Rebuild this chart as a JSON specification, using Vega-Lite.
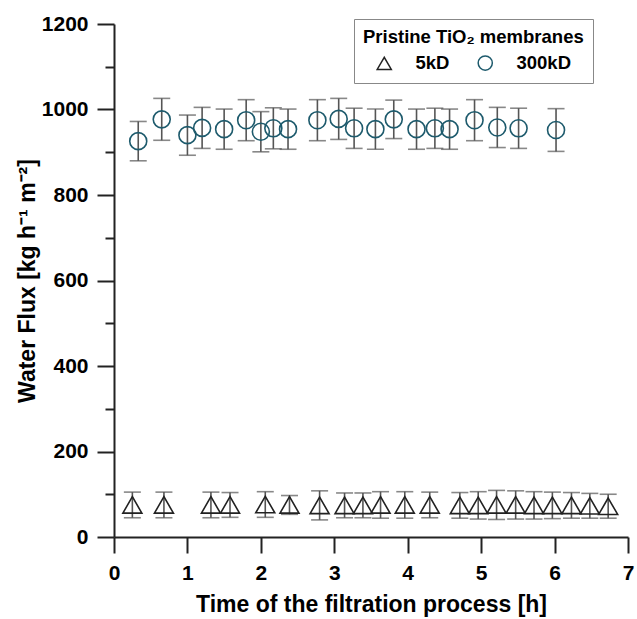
{
  "$schema": "https://vega.github.io/schema/vega-lite/v6.json",
  "width": 514,
  "height": 513,
  "autosize": "none",
  "padding": {"left": 114, "top": 24, "right": 9, "bottom": 82},
  "background": "white",
  "config": {"view": {"stroke": null}, "font": "Liberation Sans"},
  "data": {
    "values": [
      {"series": "300kD", "t": 0.33, "flux": 926, "err": 46},
      {"series": "300kD", "t": 0.65, "flux": 977, "err": 49},
      {"series": "300kD", "t": 1.0, "flux": 940, "err": 47},
      {"series": "300kD", "t": 1.2, "flux": 957, "err": 48},
      {"series": "300kD", "t": 1.5, "flux": 954, "err": 47},
      {"series": "300kD", "t": 1.8, "flux": 975, "err": 48},
      {"series": "300kD", "t": 2.0, "flux": 948, "err": 47},
      {"series": "300kD", "t": 2.17, "flux": 956, "err": 48},
      {"series": "300kD", "t": 2.37, "flux": 954, "err": 47},
      {"series": "300kD", "t": 2.77, "flux": 975, "err": 48},
      {"series": "300kD", "t": 3.06, "flux": 978, "err": 48},
      {"series": "300kD", "t": 3.27, "flux": 956, "err": 47},
      {"series": "300kD", "t": 3.56, "flux": 954, "err": 47},
      {"series": "300kD", "t": 3.81, "flux": 977, "err": 45},
      {"series": "300kD", "t": 4.12, "flux": 954, "err": 47},
      {"series": "300kD", "t": 4.37, "flux": 956, "err": 47},
      {"series": "300kD", "t": 4.57, "flux": 954, "err": 47},
      {"series": "300kD", "t": 4.91, "flux": 975, "err": 48},
      {"series": "300kD", "t": 5.22, "flux": 958, "err": 47},
      {"series": "300kD", "t": 5.51, "flux": 956, "err": 47},
      {"series": "300kD", "t": 6.02, "flux": 952, "err": 50},
      {"series": "5kD", "t": 0.25, "flux": 75, "err": 30},
      {"series": "5kD", "t": 0.68, "flux": 75, "err": 30},
      {"series": "5kD", "t": 1.32, "flux": 75, "err": 30},
      {"series": "5kD", "t": 1.58, "flux": 75, "err": 29},
      {"series": "5kD", "t": 2.06, "flux": 76, "err": 30},
      {"series": "5kD", "t": 2.39, "flux": 75, "err": 22},
      {"series": "5kD", "t": 2.8, "flux": 74, "err": 34},
      {"series": "5kD", "t": 3.14, "flux": 74, "err": 29},
      {"series": "5kD", "t": 3.39, "flux": 74, "err": 29},
      {"series": "5kD", "t": 3.63, "flux": 75, "err": 31},
      {"series": "5kD", "t": 3.96, "flux": 75, "err": 31},
      {"series": "5kD", "t": 4.3, "flux": 75, "err": 30},
      {"series": "5kD", "t": 4.71, "flux": 74, "err": 30},
      {"series": "5kD", "t": 4.96, "flux": 74, "err": 32},
      {"series": "5kD", "t": 5.21, "flux": 75, "err": 34},
      {"series": "5kD", "t": 5.47, "flux": 75, "err": 33},
      {"series": "5kD", "t": 5.72, "flux": 74, "err": 32},
      {"series": "5kD", "t": 5.97, "flux": 74, "err": 31},
      {"series": "5kD", "t": 6.23, "flux": 74, "err": 30},
      {"series": "5kD", "t": 6.48, "flux": 73, "err": 29},
      {"series": "5kD", "t": 6.73, "flux": 72, "err": 28}
    ]
  },
  "encoding": {
    "x": {
      "field": "t",
      "type": "quantitative",
      "scale": {"domain": [0, 7], "nice": false, "zero": false},
      "axis": {
        "title": "Time of the filtration process [h]",
        "values": [0, 0.5, 1, 1.5, 2, 2.5, 3, 3.5, 4, 4.5, 5, 5.5, 6, 6.5, 7],
        "labelExpr": "datum.value % 1 === 0 ? datum.label : ''",
        "format": "d",
        "tickSize": {"condition": {"test": "datum.value % 1 !== 0", "value": 8}, "value": 16},
        "grid": false,
        "domainColor": "#222",
        "domainWidth": 2,
        "tickColor": "#222",
        "tickWidth": 2,
        "labelFontSize": 21,
        "labelFontWeight": "bold",
        "labelColor": "#000",
        "labelPadding": 9,
        "labelFlush": false,
        "titleFontSize": 23,
        "titleFontWeight": "bold",
        "titleColor": "#000",
        "titlePadding": 10
      }
    },
    "y": {
      "field": "flux",
      "type": "quantitative",
      "scale": {"domain": [0, 1200], "nice": false},
      "axis": {
        "title": "Water Flux [kg h⁻¹ m⁻²]",
        "values": [0, 100, 200, 300, 400, 500, 600, 700, 800, 900, 1000, 1100, 1200],
        "labelExpr": "datum.value % 200 === 0 ? datum.label : ''",
        "format": "d",
        "tickSize": {"condition": {"test": "datum.value % 200 !== 0", "value": 9}, "value": 17},
        "grid": false,
        "domainColor": "#222",
        "domainWidth": 2,
        "tickColor": "#222",
        "tickWidth": 2,
        "labelFontSize": 21,
        "labelFontWeight": "bold",
        "labelColor": "#000",
        "labelPadding": 9,
        "labelFlush": false,
        "titleFontSize": 23,
        "titleFontWeight": "bold",
        "titleColor": "#000",
        "titlePadding": 2
      }
    }
  },
  "layer": [
    {
      "mark": {"type": "errorbar", "color": "#555", "thickness": 1.6, "ticks": {"size": 17, "thickness": 1.6, "color": "#555"}},
      "encoding": {
        "yError": {"field": "err"}
      }
    },
    {
      "transform": [{"filter": "datum.series === '5kD'"}],
      "mark": {"type": "point", "filled": false, "strokeWidth": 1.6, "opacity": 1, "size": 361},
      "encoding": {
        "shape": {"field": "series", "type": "nominal", "scale": {"domain": ["5kD", "300kD"], "range": ["triangle-up", "circle"]}, "legend": {
          "orient": "none", "legendX": 240, "legendY": -5, "direction": "horizontal",
          "title": "Pristine TiO₂ membranes", "titleFontSize": 18.5, "titleFontWeight": "bold", "titleColor": "#000", "titleLimit": 400,
          "labelFontSize": 18.5, "labelFontWeight": "bold", "labelColor": "#000",
          "strokeColor": "#888", "fillColor": "white", "padding": 9,
          "symbolSize": 200, "symbolStrokeWidth": 1.5, "symbolOffset": 12, "columnPadding": 14, "labelOffset": 22, "titlePadding": 7, "offset": 0
        }},
        "stroke": {"field": "series", "type": "nominal", "scale": {"domain": ["5kD", "300kD"], "range": ["#222222", "#1d5a6c"]}}
      }
    },
    {
      "transform": [{"filter": "datum.series === '300kD'"}],
      "mark": {"type": "point", "filled": false, "strokeWidth": 1.6, "opacity": 1, "size": 289},
      "encoding": {
        "shape": {"field": "series", "type": "nominal"},
        "stroke": {"field": "series", "type": "nominal"}
      }
    }
  ]
}
